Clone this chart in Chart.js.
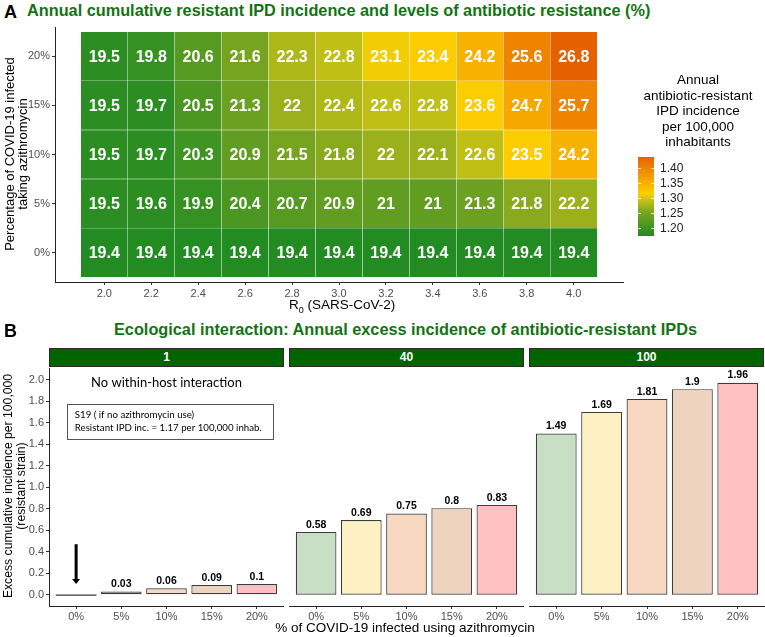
<!DOCTYPE html>
<html>
<head>
<meta charset="utf-8">
<script src="https://cdn.jsdelivr.net/npm/chart.js@4.4.1/dist/chart.umd.min.js"></script>
<style>
  body { margin: 0; background: #fff; font-family: "Liberation Sans", Arial, sans-serif; }
  #wrap { position: relative; width: 765px; height: 637px; overflow: hidden; }
  .abs { position: absolute; white-space: nowrap; color: #000; }
  canvas { position: absolute; }
  .tag { font-weight: bold; font-size: 18px; }
  .ttl { font-weight: bold; font-size: 16.3px; color: #137313; }
  .strip { position: absolute; top: 348px; height: 19px; background: #006400; border: 1px solid #2b2b2b;
           box-sizing: border-box; color: #fff; font-weight: bold; font-size: 12px; text-align: center; line-height: 17px; }
  .rot { transform: rotate(-90deg); text-align: center; font-size: 13px; line-height: 12.5px; }
  .legttl { font-size: 13.5px; line-height: 15.5px; text-align: center; }
</style>
</head>
<body>
<div id="wrap">
  <div class="abs tag" style="left:4px;top:2px;">A</div>
  <div class="abs ttl" id="titleA" style="left:27px;top:1px;">Annual cumulative resistant IPD incidence and levels of antibiotic resistance (%)</div>
  <canvas id="heat" width="765" height="310" style="left:0;top:0;"></canvas>
  <div class="abs rot" style="left:-123px;top:141px;width:280px;height:26px;">Percentage of COVID-19 infected<br>taking azithromycin</div>
  <div class="abs" style="left:289px;top:297px;width:100px;text-align:center;font-size:13.5px;">R<sub style="font-size:9px;">0</sub> (SARS-CoV-2)</div>
  <div class="abs legttl" style="left:628px;top:72px;width:140px;">Annual<br>antibiotic-resistant<br>IPD incidence<br>per 100,000<br>inhabitants</div>

  <div class="abs tag" style="left:4px;top:321px;">B</div>
  <div class="abs ttl" id="titleB" style="left:114px;top:320px;">Ecological interaction: Annual excess incidence of antibiotic-resistant IPDs</div>
  <div class="strip" id="strip0" style="left:49px;width:235px;"></div>
  <div class="strip" id="strip1" style="left:289px;width:235px;"></div>
  <div class="strip" id="strip2" style="left:529px;width:235px;"></div>
  <canvas id="fac0" width="284" height="265" style="left:0;top:360px;"></canvas>
  <canvas id="fac1" width="235" height="265" style="left:289px;top:360px;"></canvas>
  <canvas id="fac2" width="236" height="265" style="left:529px;top:360px;"></canvas>
  <div class="abs rot" style="left:-125px;top:473px;width:280px;height:26px;font-size:12.2px;">Excess cumulative incidence per 100,000<br>(resistant strain)</div>
  <div class="abs" style="left:265px;top:620px;width:280px;text-align:center;font-size:13.5px;">% of COVID-19 infected using azithromycin</div>
</div>
<script>
// ---- Panel A data ----
const r0Values = [2.0, 2.2, 2.4, 2.6, 2.8, 3.0, 3.2, 3.4, 3.6, 3.8, 4.0];
const azithroLevels = ['0%', '5%', '10%', '15%', '20%'];

// antibiotic resistance (%) shown in each cell, one array per azithromycin level
const resist0  = [19.4, 19.4, 19.4, 19.4, 19.4, 19.4, 19.4, 19.4, 19.4, 19.4, 19.4];
const resist5  = [19.5, 19.6, 19.9, 20.4, 20.7, 20.9, 21, 21, 21.3, 21.8, 22.2];
const resist10 = [19.5, 19.7, 20.3, 20.9, 21.5, 21.8, 22, 22.1, 22.6, 23.5, 24.2];
const resist15 = [19.5, 19.7, 20.5, 21.3, 22, 22.4, 22.6, 22.8, 23.6, 24.7, 25.7];
const resist20 = [19.5, 19.8, 20.6, 21.6, 22.3, 22.8, 23.1, 23.4, 24.2, 25.6, 26.8];

// annual resistant IPD incidence per 100,000 (cell fill), estimated from the colours
const inc0  = [1.17, 1.17, 1.17, 1.17, 1.17, 1.17, 1.17, 1.17, 1.17, 1.17, 1.17];
const inc5  = [1.18, 1.18, 1.19, 1.21, 1.22, 1.23, 1.23, 1.23, 1.24, 1.26, 1.27];
const inc10 = [1.18, 1.18, 1.20, 1.23, 1.25, 1.26, 1.27, 1.27, 1.29, 1.32, 1.35];
const inc15 = [1.18, 1.18, 1.21, 1.24, 1.27, 1.28, 1.29, 1.29, 1.32, 1.36, 1.40];
const inc20 = [1.18, 1.19, 1.22, 1.25, 1.28, 1.29, 1.31, 1.32, 1.35, 1.40, 1.44];

const resistRows = [resist0, resist5, resist10, resist15, resist20];
const incRows = [inc0, inc5, inc10, inc15, inc20];
const legendTicks = [1.20, 1.25, 1.30, 1.35, 1.40];

// ---- Panel B data ----
const facetLabels = ['1', '40', '100'];
const azithroCats = ['0%', '5%', '10%', '15%', '20%'];
const excess1   = [0, 0.03, 0.06, 0.09, 0.1];
const excess40  = [0.58, 0.69, 0.75, 0.8, 0.83];
const excess100 = [1.49, 1.69, 1.81, 1.9, 1.96];
const yTicksB = [0, 0.2, 0.4, 0.6, 0.8, 1.0, 1.2, 1.4, 1.6, 1.8, 2.0];

const BAR_FILLS = ['#c8dfc5', '#fdf0c3', '#f8d8c0', '#eed4bf', '#ffc1c1'];
const FONT = '"Liberation Sans", Arial, sans-serif';
Chart.defaults.font.family = FONT;

// fill colour scale
const FILL_STOPS = [
  [1.172, [34, 139, 34]], [1.25, [118, 163, 32]], [1.29, [192, 191, 22]], [1.315, [252, 208, 0]],
  [1.36, [246, 168, 0]], [1.40, [238, 132, 0]], [1.44, [229, 97, 0]],
];
const fillColor = (v) => {
  if (v <= FILL_STOPS[0][0]) return `rgb(${FILL_STOPS[0][1].join(',')})`;
  for (let i = 1; i < FILL_STOPS.length; i++) {
    const [v1, c1] = FILL_STOPS[i];
    if (v <= v1) {
      const [v0, c0] = FILL_STOPS[i - 1];
      const t = (v - v0) / (v1 - v0);
      return `rgb(${c0.map((c, k) => Math.round(c + t * (c1[k] - c))).join(',')})`;
    }
  }
  return `rgb(${FILL_STOPS[FILL_STOPS.length - 1][1].join(',')})`;
};

const axisGrid = { drawOnChartArea: false, drawTicks: true, tickLength: 3, color: '#333', offset: false };
const axisBorder = { display: true, color: '#222', width: 1 };
const tickFont = { size: 11 };

// cell labels
const cellLabels = {
  id: 'cellLabels',
  afterDatasetsDraw(chart) {
    const { ctx } = chart;
    ctx.save();
    ctx.fillStyle = '#fff';
    ctx.font = `bold 16px ${FONT}`;
    ctx.textAlign = 'center';
    ctx.textBaseline = 'middle';
    chart.data.datasets.forEach((ds, i) => {
      chart.getDatasetMeta(i).data.forEach((el, j) => {
        ctx.fillText(String(resistRows[i][j]), el.x, (el.y + el.base) / 2 + 1);
      });
    });
    ctx.restore();
  },
};

// colour bar legend
const colorBar = {
  id: 'colorBar',
  afterDraw(chart) {
    const { ctx } = chart;
    const x0 = 638, w = 16, top = 157, bottom = 236, lo = 1.172, hi = 1.438;
    const toY = (v) => bottom - (v - lo) / (hi - lo) * (bottom - top);
    ctx.save();
    for (let y = top; y < bottom; y++) {
      const v = lo + (bottom - y - 0.5) / (bottom - top) * (hi - lo);
      ctx.fillStyle = fillColor(v);
      ctx.fillRect(x0, y, w, 1);
    }
    ctx.strokeStyle = 'rgba(255,255,255,0.8)';
    ctx.lineWidth = 1;
    ctx.fillStyle = '#222';
    ctx.font = `12px ${FONT}`;
    ctx.textBaseline = 'middle';
    legendTicks.forEach((t) => {
      const y = Math.round(toY(t)) + 0.5;
      ctx.beginPath();
      ctx.moveTo(x0, y); ctx.lineTo(x0 + 3, y);
      ctx.moveTo(x0 + w - 3, y); ctx.lineTo(x0 + w, y);
      ctx.stroke();
      ctx.fillText(t.toFixed(2), x0 + w + 6, y);
    });
    ctx.restore();
  },
};

new Chart(document.getElementById('heat'), {
  type: 'bar',
  data: {
    datasets: resistRows.map((row, i) => ({
      data: r0Values.map((r) => ({ x: r, y: [i - 0.5, i + 0.5] })),
      backgroundColor: incRows[i].map(fillColor),
      borderColor: 'rgba(255,255,255,0.3)',
      borderWidth: 0.5,
      borderSkipped: false,
    })),
  },
  options: {
    responsive: false,
    animation: false,
    events: [],
    layout: { padding: { top: 27, right: 142, left: 0, bottom: 0 } },
    plugins: { legend: { display: false }, tooltip: { enabled: false } },
    datasets: { bar: { grouped: false, barPercentage: 1, categoryPercentage: 1 } },
    scales: {
      x: {
        type: 'linear', min: 1.79, max: 4.21, offset: false,
        afterBuildTicks: (s) => { s.ticks = r0Values.map((v) => ({ value: v })); },
        afterFit: (s) => { s.height = 28; },
        ticks: { callback: (v) => Number(v).toFixed(1), color: '#4d4d4d', font: tickFont, padding: 2, maxRotation: 0, autoSkip: false },
        grid: axisGrid, border: axisBorder,
      },
      y: {
        type: 'linear', min: -0.6, max: 4.6,
        afterBuildTicks: (s) => { s.ticks = azithroLevels.map((_, i) => ({ value: i })); },
        afterFit: (s) => { s.width = 55; },
        ticks: { callback: (v) => azithroLevels[Math.round(v)], color: '#4d4d4d', font: tickFont, padding: 2 },
        grid: axisGrid, border: axisBorder,
      },
    },
  },
  plugins: [cellLabels, colorBar],
});

// ---- Panel B ----
const barLabels = {
  id: 'barLabels',
  afterDatasetsDraw(chart) {
    const { ctx } = chart;
    const ds = chart.data.datasets[0];
    ctx.save();
    ctx.font = `bold 10.5px ${FONT}`;
    ctx.fillStyle = '#000';
    ctx.textAlign = 'center';
    ctx.textBaseline = 'bottom';
    chart.getDatasetMeta(0).data.forEach((el, i) => {
      const v = ds.data[i].y;
      if (v > 0) {
        ctx.fillText(String(v), el.x, el.y - 2);
      } else {
        // zero-height bar: ggplot still draws its outline as a flat line
        ctx.strokeStyle = '#3c3c3c';
        ctx.lineWidth = 1.2;
        ctx.beginPath();
        ctx.moveTo(el.x - el.width / 2, el.base + 0.5);
        ctx.lineTo(el.x + el.width / 2, el.base + 0.5);
        ctx.stroke();
      }
    });
    ctx.restore();
  },
};

const noInteraction = {
  id: 'noInteraction',
  afterDraw(chart) {
    const { ctx } = chart;
    const xs = chart.scales.x, ys = chart.scales.y;
    ctx.save();
    ctx.fillStyle = '#000';
    ctx.font = `13px Lato, "Open Sans", sans-serif`;
    ctx.textAlign = 'center';
    ctx.textBaseline = 'middle';
    ctx.fillText('No within-host interaction', xs.getPixelForValue(2), ys.getPixelForValue(1.97));

    const bl = xs.getPixelForValue(-0.2), br = xs.getPixelForValue(4.35);
    const bt = ys.getPixelForValue(1.78), bb = ys.getPixelForValue(1.45);
    ctx.fillStyle = '#fff';
    ctx.fillRect(bl, bt, br - bl, bb - bt);
    ctx.strokeStyle = '#555';
    ctx.lineWidth = 1;
    ctx.strokeRect(Math.round(bl) + 0.5, Math.round(bt) + 0.5, Math.round(br - bl), Math.round(bb - bt));
    ctx.fillStyle = '#000';
    ctx.font = `9.7px Lato, "Open Sans", sans-serif`;
    ctx.textAlign = 'left';
    const tx = xs.getPixelForValue(-0.03);
    ctx.fillText('S19 ( if no azithromycin use)', tx, ys.getPixelForValue(1.675));
    ctx.fillText('Resistant IPD inc. = 1.17 per 100,000 inhab.', tx, ys.getPixelForValue(1.55));

    // arrow pointing at the zero bar
    const ax = xs.getPixelForValue(0);
    const ay0 = ys.getPixelForValue(0.47), ay1 = ys.getPixelForValue(0.1);
    ctx.strokeStyle = '#000';
    ctx.lineWidth = 3;
    ctx.beginPath();
    ctx.moveTo(ax, ay0);
    ctx.lineTo(ax, ay1 - 3);
    ctx.stroke();
    ctx.fillStyle = '#000';
    ctx.beginPath();
    ctx.moveTo(ax - 4, ay1 - 5);
    ctx.lineTo(ax + 4, ay1 - 5);
    ctx.lineTo(ax, ay1);
    ctx.closePath();
    ctx.fill();
    ctx.restore();
  },
};

const facetChart = (id, values, showY, extra) => new Chart(document.getElementById(id), {
  type: 'bar',
  data: {
    datasets: [{
      data: values.map((v, i) => ({ x: i, y: v })),
      backgroundColor: BAR_FILLS,
      borderColor: '#3c3c3c',
      borderWidth: 1.2,
      borderSkipped: false,
      barPercentage: 0.9,
      categoryPercentage: 1,
    }],
  },
  options: {
    responsive: false,
    animation: false,
    events: [],
    layout: { padding: { top: 7, right: 0, left: 0, bottom: 0 } },
    plugins: { legend: { display: false }, tooltip: { enabled: false } },
    scales: {
      x: {
        type: 'linear', min: -0.6, max: 4.6, offset: false,
        afterBuildTicks: (s) => { s.ticks = azithroCats.map((_, i) => ({ value: i })); },
        afterFit: (s) => { s.height = 19; },
        ticks: { callback: (v) => azithroCats[Math.round(v)], color: '#4d4d4d', font: tickFont, padding: 1, maxRotation: 0, autoSkip: false },
        grid: axisGrid, border: axisBorder,
      },
      y: {
        type: 'linear', min: -0.105, max: 2.105, display: showY,
        afterBuildTicks: (s) => { s.ticks = yTicksB.map((v) => ({ value: v })); },
        afterFit: (s) => { s.width = showY ? 49 : 0; },
        ticks: { callback: (v) => Number(v).toFixed(1), color: '#4d4d4d', font: tickFont, padding: 2 },
        grid: axisGrid, border: axisBorder,
      },
    },
  },
  plugins: extra ? [barLabels, extra] : [barLabels],
});

facetLabels.forEach((lab, i) => { document.getElementById('strip' + i).textContent = lab; });
facetChart('fac0', excess1, true, noInteraction);
facetChart('fac1', excess40, false);
facetChart('fac2', excess100, false);
</script>
</body>
</html>
